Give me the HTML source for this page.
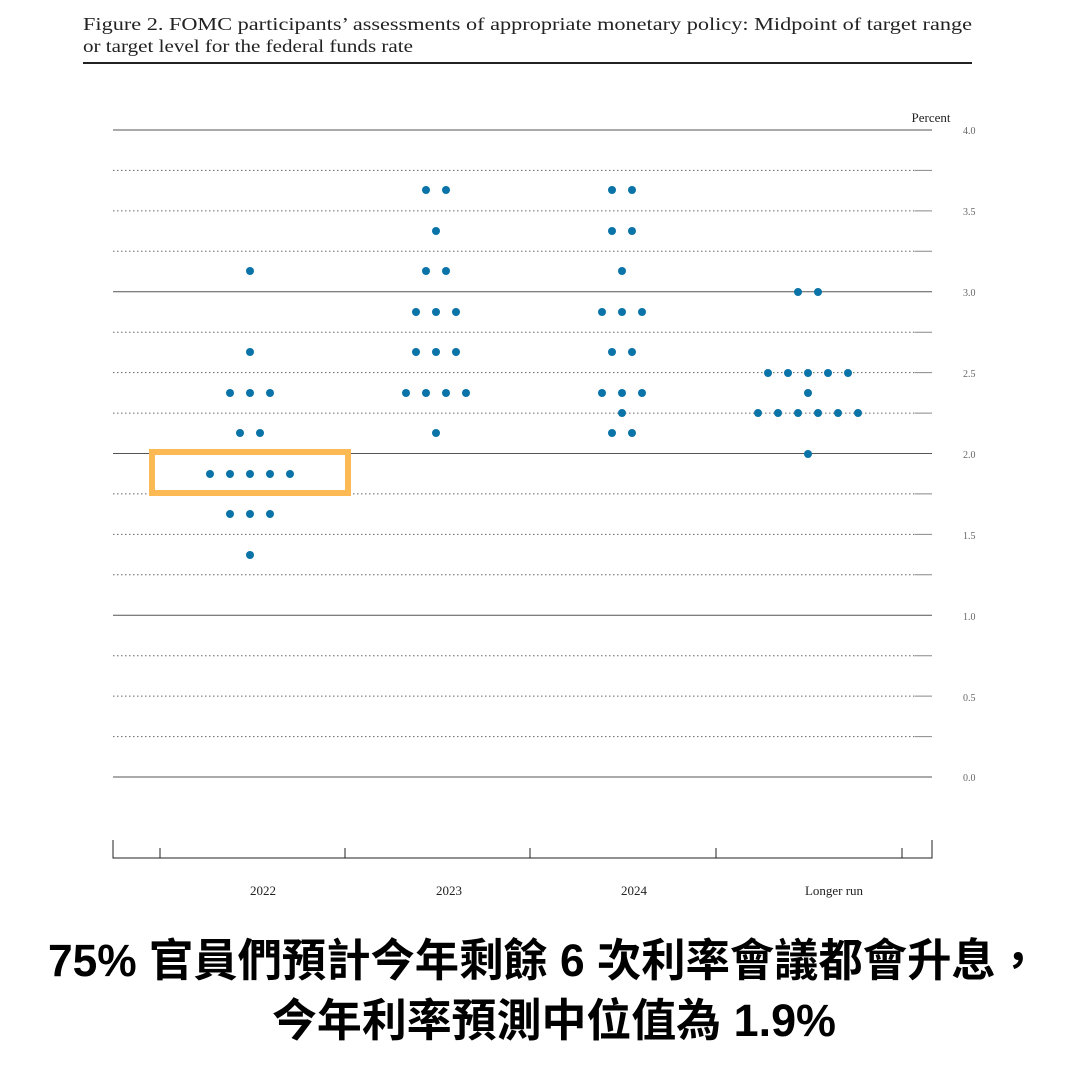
<!DOCTYPE html>
<html><head><meta charset="utf-8"><style>body{margin:0;background:#fff}svg{display:block}</style></head><body>
<svg width="1080" height="1080" viewBox="0 0 1080 1080" xmlns="http://www.w3.org/2000/svg">
<rect width="1080" height="1080" fill="#fff"/>
<g font-family="Liberation Serif, serif" font-size="18" fill="#222">
<text x="83" y="30" textLength="889" lengthAdjust="spacingAndGlyphs">Figure 2.  FOMC participants’ assessments of appropriate monetary policy: Midpoint of target range</text>
<text x="83" y="52" textLength="330" lengthAdjust="spacingAndGlyphs">or target level for the federal funds rate</text>
</g>
<rect x="83" y="62" width="889" height="2" fill="#222"/>
<g stroke-width="1">
<g stroke="#666" stroke-dasharray="1.5 2.5">
<line x1="113" x2="915" y1="170.4" y2="170.4"/><line x1="113" x2="915" y1="210.9" y2="210.9"/><line x1="113" x2="915" y1="251.3" y2="251.3"/>
<line x1="113" x2="915" y1="332.2" y2="332.2"/><line x1="113" x2="915" y1="372.6" y2="372.6"/><line x1="113" x2="915" y1="413.1" y2="413.1"/>
<line x1="113" x2="915" y1="493.9" y2="493.9"/><line x1="113" x2="915" y1="534.4" y2="534.4"/><line x1="113" x2="915" y1="574.8" y2="574.8"/>
<line x1="113" x2="915" y1="655.7" y2="655.7"/><line x1="113" x2="915" y1="696.1" y2="696.1"/><line x1="113" x2="915" y1="736.6" y2="736.6"/>
</g>
<g stroke="#888">
<line x1="915" x2="932" y1="170.4" y2="170.4"/><line x1="915" x2="932" y1="210.9" y2="210.9"/><line x1="915" x2="932" y1="251.3" y2="251.3"/>
<line x1="915" x2="932" y1="332.2" y2="332.2"/><line x1="915" x2="932" y1="372.6" y2="372.6"/><line x1="915" x2="932" y1="413.1" y2="413.1"/>
<line x1="915" x2="932" y1="493.9" y2="493.9"/><line x1="915" x2="932" y1="534.4" y2="534.4"/><line x1="915" x2="932" y1="574.8" y2="574.8"/>
<line x1="915" x2="932" y1="655.7" y2="655.7"/><line x1="915" x2="932" y1="696.1" y2="696.1"/><line x1="915" x2="932" y1="736.6" y2="736.6"/>
</g>
<g stroke="#555">
<line x1="113" x2="932" y1="130" y2="130"/><line x1="113" x2="932" y1="291.8" y2="291.8"/><line x1="113" x2="932" y1="453.5" y2="453.5"/><line x1="113" x2="932" y1="615.3" y2="615.3"/><line x1="113" x2="932" y1="777" y2="777"/>
</g>
<g stroke="#222" fill="none">
<polyline points="113,840 113,858 932,858 932,840"/>
<line x1="160" x2="160" y1="848" y2="858"/><line x1="345" x2="345" y1="848" y2="858"/><line x1="530" x2="530" y1="848" y2="858"/><line x1="716" x2="716" y1="848" y2="858"/><line x1="902" x2="902" y1="848" y2="858"/>
</g>
</g>
<g font-family="Liberation Serif, serif" font-size="10" fill="#666">
<text x="963" y="134">4.0</text><text x="963" y="215">3.5</text><text x="963" y="296">3.0</text><text x="963" y="377">2.5</text><text x="963" y="458">2.0</text><text x="963" y="539">1.5</text><text x="963" y="620">1.0</text><text x="963" y="701">0.5</text><text x="963" y="781">0.0</text>
</g>
<g font-family="Liberation Serif, serif" font-size="13" fill="#222" text-anchor="middle">
<text x="931" y="122">Percent</text>
<text x="263" y="895">2022</text><text x="449" y="895">2023</text><text x="634" y="895">2024</text><text x="834" y="895">Longer run</text>
</g>
<g fill="#0a73a8">
<circle cx="250" cy="271" r="4"/><circle cx="250" cy="352" r="4"/>
<circle cx="230" cy="393" r="4"/><circle cx="250" cy="393" r="4"/><circle cx="270" cy="393" r="4"/>
<circle cx="240" cy="433" r="4"/><circle cx="260" cy="433" r="4"/>
<circle cx="210" cy="474" r="4"/><circle cx="230" cy="474" r="4"/><circle cx="250" cy="474" r="4"/><circle cx="270" cy="474" r="4"/><circle cx="290" cy="474" r="4"/>
<circle cx="230" cy="514" r="4"/><circle cx="250" cy="514" r="4"/><circle cx="270" cy="514" r="4"/>
<circle cx="250" cy="555" r="4"/>
<circle cx="426" cy="190" r="4"/><circle cx="446" cy="190" r="4"/><circle cx="436" cy="231" r="4"/>
<circle cx="426" cy="271" r="4"/><circle cx="446" cy="271" r="4"/>
<circle cx="416" cy="312" r="4"/><circle cx="436" cy="312" r="4"/><circle cx="456" cy="312" r="4"/>
<circle cx="416" cy="352" r="4"/><circle cx="436" cy="352" r="4"/><circle cx="456" cy="352" r="4"/>
<circle cx="406" cy="393" r="4"/><circle cx="426" cy="393" r="4"/><circle cx="446" cy="393" r="4"/><circle cx="466" cy="393" r="4"/>
<circle cx="436" cy="433" r="4"/>
<circle cx="612" cy="190" r="4"/><circle cx="632" cy="190" r="4"/><circle cx="612" cy="231" r="4"/><circle cx="632" cy="231" r="4"/>
<circle cx="622" cy="271" r="4"/>
<circle cx="602" cy="312" r="4"/><circle cx="622" cy="312" r="4"/><circle cx="642" cy="312" r="4"/>
<circle cx="612" cy="352" r="4"/><circle cx="632" cy="352" r="4"/>
<circle cx="602" cy="393" r="4"/><circle cx="622" cy="393" r="4"/><circle cx="642" cy="393" r="4"/>
<circle cx="622" cy="413" r="4"/>
<circle cx="612" cy="433" r="4"/><circle cx="632" cy="433" r="4"/>
<circle cx="798" cy="292" r="4"/><circle cx="818" cy="292" r="4"/>
<circle cx="768" cy="373" r="4"/><circle cx="788" cy="373" r="4"/><circle cx="808" cy="373" r="4"/><circle cx="828" cy="373" r="4"/><circle cx="848" cy="373" r="4"/>
<circle cx="808" cy="393" r="4"/>
<circle cx="758" cy="413" r="4"/><circle cx="778" cy="413" r="4"/><circle cx="798" cy="413" r="4"/><circle cx="818" cy="413" r="4"/><circle cx="838" cy="413" r="4"/><circle cx="858" cy="413" r="4"/>
<circle cx="808" cy="454" r="4"/>
</g>
<rect x="152" y="452" width="196" height="41" fill="none" stroke="#fdb954" stroke-width="6"/>
<g font-family="Liberation Sans, Noto Sans CJK TC, sans-serif" font-size="45" font-weight="bold" fill="#000" text-anchor="middle">
<text x="544" y="976" textLength="992" lengthAdjust="spacingAndGlyphs">75% 官員們預計今年剩餘 6 次利率會議都會升息，</text>
<text x="554" y="1036" textLength="564" lengthAdjust="spacingAndGlyphs">今年利率預測中位值為 1.9%</text>
</g>
</svg>
</body></html>
